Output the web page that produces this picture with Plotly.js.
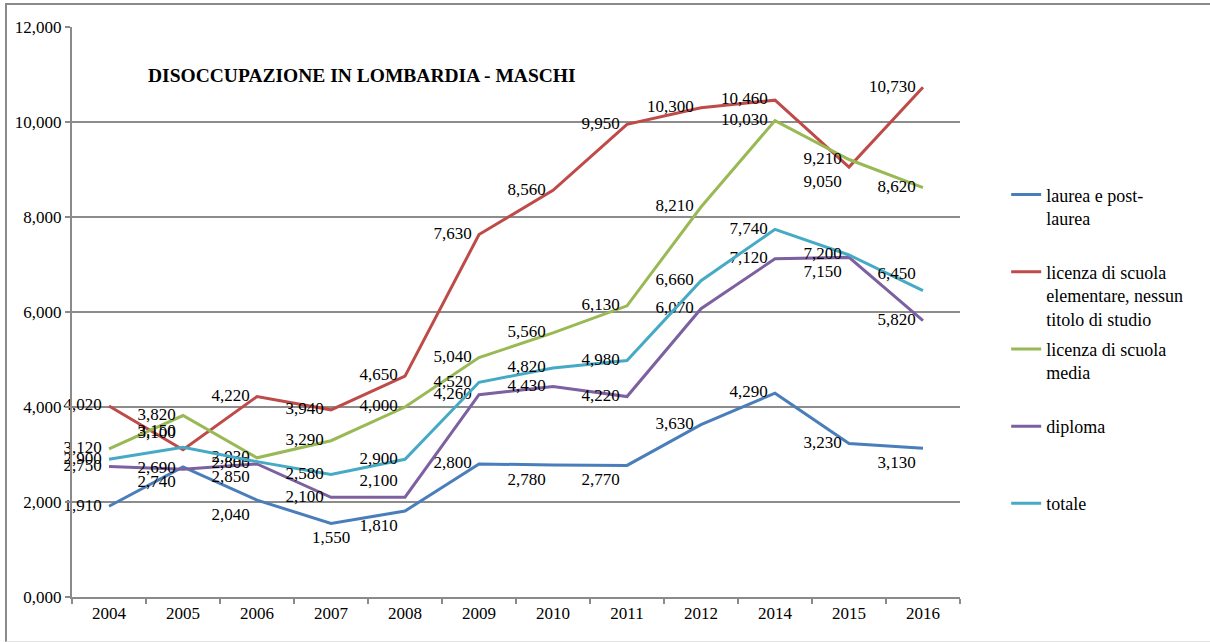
<!DOCTYPE html>
<html>
<head>
<meta charset="utf-8">
<script src="https://cdn.plot.ly/plotly-3.0.1.min.js"></script>
<style>
  html, body { margin: 0; padding: 0; background: #fff; }
  #wrap { position: relative; width: 1210px; height: 642px; }
  #chart { width: 1210px; height: 642px; }
  #frame { position: absolute; left: 5px; top: 3px; width: 1210px; height: 636px;
           border-left: 2px solid #8a8a8a; border-top: 2px solid #8a8a8a; border-bottom: 1px solid #e2e2e2;
           pointer-events: none; }
</style>
</head>
<body>
<div id="wrap">
  <div id="chart"></div>
  <div id="frame"></div>
</div>
<script>
// ---- data (values in thousands) ----
const years = ["2004","2005","2006","2007","2008","2009","2010","2011","2012","2014","2015","2016"];
const laurea     = [1.910, 2.740, 2.040, 1.550, 1.810, 2.800, 2.780, 2.770, 3.630, 4.290, 3.230, 3.130];
const elementare = [4.020, 3.100, 4.220, 3.940, 4.650, 7.630, 8.560, 9.950, 10.300, 10.460, 9.050, 10.730];
const media      = [3.120, 3.820, 2.930, 3.290, 4.000, 5.040, 5.560, 6.130, 8.210, 10.030, 9.210, 8.620];
const diploma    = [2.750, 2.690, 2.800, 2.100, 2.100, 4.260, 4.430, 4.220, 6.070, 7.120, 7.150, 5.820];
const totale     = [2.900, 3.150, 2.850, 2.580, 2.900, 4.520, 4.820, 4.980, 6.660, 7.740, 7.200, 6.450];
const seriesNames = [
  "laurea e post-<br>laurea<br>\u00a0",
  "licenza di scuola<br>elementare, nessun<br>titolo di studio",
  "licenza di scuola<br>media<br>\u00a0",
  "diploma<br>\u00a0<br>\u00a0",
  "totale<br>\u00a0<br>\u00a0"
];
const yTickVals = [0, 2, 4, 6, 8, 10, 12];
const chartTitle = "DISOCCUPAZIONE IN LOMBARDIA - MASCHI";

// ---- styles ----
const ML = "middle left", BL = "bottom left", TL = "top left", BC = "bottom center";
const posLaurea     = [ML, BL, BL, BC, BL, ML, BL, BL, ML, ML, ML, BL];
const posElementare = [ML, TL, ML, ML, ML, ML, ML, ML, ML, ML, BL, ML];
const posMedia      = [ML, ML, ML, ML, ML, ML, ML, ML, ML, ML, ML, ML];
const posDiploma    = [ML, ML, ML, ML, TL, ML, ML, ML, ML, ML, BL, ML];
const posTotale     = [ML, TL, BL, ML, ML, ML, ML, ML, ML, ML, ML, TL];
const colors = ["#4A7EBB", "#BE4B48", "#98B954", "#7D60A0", "#46AAC5"];
const FONT = "Liberation Serif, Times New Roman, serif";

const seriesData = [laurea, elementare, media, diploma, totale];
const positions = [posLaurea, posElementare, posMedia, posDiploma, posTotale];

const traces = seriesData.map((vals, i) => ({
  type: "scatter",
  mode: "lines+markers+text",
  x: years,
  y: vals,
  name: seriesNames[i],
  legendgroup: "g" + i,
  line: { color: colors[i], width: 3 },
  marker: { size: 10, color: "rgba(0,0,0,0)", line: { width: 0, color: "rgba(0,0,0,0)" } },
  texttemplate: "%{y:.3f}",
  textposition: positions[i],
  textfont: { family: FONT, size: 17, color: "#000" },
  cliponaxis: false,
  hoverinfo: "skip"
}));

const layout = {
  width: 1210,
  height: 642,
  margin: { l: 72, r: 250, t: 27, b: 45 },
  paper_bgcolor: "rgba(0,0,0,0)",
  plot_bgcolor: "#fff",
  separators: ",.",
  font: { family: FONT, size: 17, color: "#000" },
  title: {
    text: "<b>" + chartTitle + "</b>",
    font: { family: FONT, size: 19.5, color: "#000" },
    xref: "container", yref: "container",
    x: 148 / 1210, xanchor: "left",
    y: 1 - 75 / 642, yanchor: "middle"
  },
  showlegend: true,
  legend: {
    x: 1.052, xanchor: "left",
    y: 0.738, yanchor: "top",
    valign: "top",
    tracegroupgap: 4,
    font: { family: FONT, size: 18, color: "#000" },
    bgcolor: "rgba(0,0,0,0)"
  },
  xaxis: {
    type: "category",
    range: [-0.5, 11.5],
    showline: true, linecolor: "#8a8a8a", linewidth: 2,
    ticks: "outside", tickson: "boundaries", ticklen: 5, tickcolor: "#8a8a8a", tickwidth: 2,
    showgrid: false, zeroline: false,
    tickfont: { family: FONT, size: 17, color: "#000" }
  },
  yaxis: {
    range: [0, 12],
    tickvals: yTickVals,
    tickformat: ".3f",
    showline: true, linecolor: "#8a8a8a", linewidth: 2,
    ticks: "outside", ticklen: 5, tickcolor: "#8a8a8a", tickwidth: 2,
    showgrid: true, gridcolor: "#8c8c8c", gridwidth: 1.5,
    zeroline: false,
    tickfont: { family: FONT, size: 17, color: "#000" }
  }
};

Plotly.newPlot("chart", traces, layout, { displayModeBar: false, staticPlot: true });
</script>
</body>
</html>
